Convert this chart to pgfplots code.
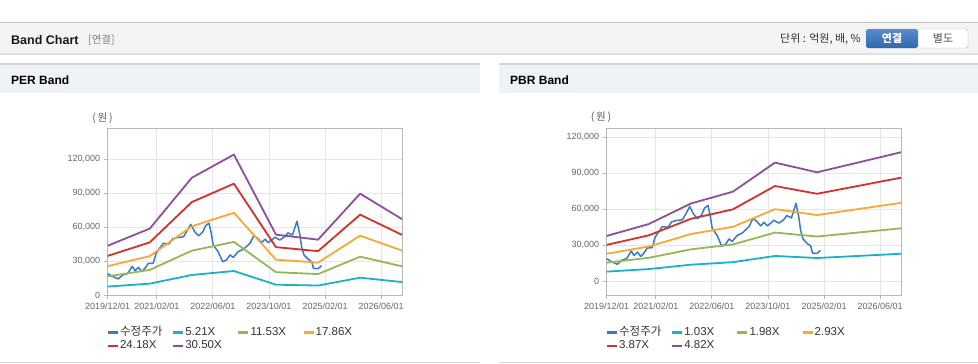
\documentclass[border=0pt]{standalone}
\usepackage{pgfplots}
\pgfplotsset{compat=1.18}
\usepackage{pgfplotstable}
\usepackage{fontspec}
\setmainfont{Liberation Sans}
\newfontfamily\kr{Noto Sans CJK KR}
\definecolor{cPrice}{HTML}{3A78C8}
\definecolor{cCyan}{HTML}{1BB2C8}
\definecolor{cGreen}{HTML}{93B956}
\definecolor{cOrange}{HTML}{F6A935}
\definecolor{cRed}{HTML}{D2322B}
\definecolor{cPurple}{HTML}{904D9C}
\definecolor{gridc}{HTML}{E6E6E6}
\definecolor{axc}{HTML}{B8B8B8}
\definecolor{tickc}{HTML}{666666}
\definecolor{legc}{HTML}{333333}
\definecolor{hdr}{HTML}{F4F4F4}
\definecolor{phdr}{HTML}{EEF2F7}

\pgfplotstableread{
m v
0 18800
1.3 16500
3.0 14200
4.3 17600
5.7 18900
7.0 25300
7.8 21500
8.8 24400
9.7 20700
10.6 23500
11.6 27900
13.0 28000
13.8 36800
15.0 42000
15.9 45600
17.5 45000
18.5 49500
19.9 50700
21.6 51300
22.5 55900
23.7 62300
24.8 55900
25.9 52200
27.1 55500
27.9 61000
28.9 63300
29.5 55000
30.1 44100
31.5 38200
32.8 29400
33.9 30900
34.9 35300
35.8 33200
37.2 38200
38.7 40300
40.6 45600
41.7 52400
42.8 50000
43.9 46200
44.9 49200
45.8 46200
46.8 48500
47.7 50900
49.1 48500
50.5 51400
51.4 54800
52.7 52900
54.0 65000
54.8 53500
55.3 42600
56.0 35300
57.2 31500
58.2 29400
58.7 23500
60.0 23200
61.0 25800
}\price

\pgfplotstableread{
m a b c d e
0 7424 16430 25451 34457 43463
12 10003 22138 34291 46426 58560
24 17662 39087 60545 81970 103395
36 21153 46812 72512 98171 123830
48 9091 20120 31166 42194 53223
60 8336 18448 28576 38688 48800
72 15265 33783 52330 70847 89365
84 11410 25251 39113 52954 66795
}\per

\pgfplotstableread{
m a b c d e
0 8086 15543 23001 30380 37837
12 10197 19602 29007 38313 47718
24 13854 26631 39409 52052 64829
36 15965 30690 45415 59985 74710
48 21136 40630 60124 79412 98906
60 19416 37323 55231 72950 90857
72 21197 40748 60299 79645 99196
84 22990 44194 65398 86378 107582
}\pbr

\pgfplotsset{
  bandaxis/.style={
    scale only axis, width=294.5pt, height=166.7pt,
    anchor=south west,
    xmin=0, xmax=84,
    xtick={0,14,30,46,62,78},
    xticklabels={2019/12/01,2021/02/01,2022/06/01,2023/10/01,2025/02/01,2026/06/01},
    ytick={0,30000,60000,90000,120000},
    grid=major, major grid style={draw=gridc, line width=0.8pt},
    axis line style={draw=axc, line width=0.9pt},
    tick style={draw=axc, line width=0.8pt},
    tick align=outside, major tick length=4pt,
    xtick pos=left, ytick pos=left,
    ticklabel style={font=\fontsize{9}{10}\selectfont, text=tickc},
    /pgf/number format/assume math mode=true,
    /pgf/number format/fixed,
    /pgf/number format/precision=0,
    /pgf/number format/1000 sep={,},
    scaled y ticks=false,
    every axis plot/.append style={line width=1.8pt, line join=round},
    legend columns=4,
    legend style={at={(0,0)}, anchor=north west, xshift=-1pt, yshift=-30.5pt,
      draw=none, fill=none, inner sep=0pt, row sep=0pt, column sep=0pt,
      font=\fontsize{11.5}{12}\selectfont, text=legc,
      nodes={inner sep=1pt, text height=8.5pt, text depth=3pt},
      cells={anchor=west}},
    legend image code/.code={\draw[##1, line width=2.2pt] (0pt,0pt) -- (10pt,0pt);},
  }
}

\begin{document}
\begin{tikzpicture}
\useasboundingbox (0,0) rectangle (978pt,-364pt);
\fill[white] (0,0) rectangle (978pt,-364pt);
% top header bar
\fill[hdr] (0,-22pt) rectangle (978pt,-53pt);
\fill[black!12] (0,-53pt) rectangle (978pt,-54.5pt);
\draw[line width=1.5pt, black!25] (0,-22.5pt) -- (978pt,-22.5pt);
\node[anchor=west, inner sep=0pt, font=\bfseries\fontsize{12.5}{14}\selectfont, text=black!90] at (11pt,-40pt) {Band Chart};
\node[anchor=west, inner sep=0pt, font=\kr\fontsize{10.5}{12}\selectfont, text=black!50] at (88pt,-40pt) {[연결]};
\node[anchor=east, inner sep=0pt, font=\kr\fontsize{11}{12}\selectfont, text=black!80] at (861pt,-39pt) {단위 : 억원, 배, \%};
\draw[fill=white, draw=black!28, rounded corners=2.5pt] (866pt,-29pt) rectangle (968pt,-48pt);
\shade[top color=cPrice!85!white, bottom color=cPrice!85!black, rounded corners=2.5pt] (866pt,-29pt) rectangle (918pt,-48pt);
\node[inner sep=0pt, font=\kr\bfseries\fontsize{11}{12}\selectfont, text=white] at (892pt,-38.5pt) {연결};
\node[inner sep=0pt, font=\kr\fontsize{11}{12}\selectfont, text=black!70] at (943pt,-38.5pt) {별도};
% panel headers
\fill[phdr] (0,-64pt) rectangle (480pt,-93pt);
\fill[phdr] (499pt,-64pt) rectangle (978pt,-93pt);
\draw[line width=1.2pt, black!17] (0,-64pt) -- (480pt,-64pt);
\draw[line width=1.2pt, black!17] (499pt,-64pt) -- (978pt,-64pt);
\draw[line width=1.2pt, black!15] (0,-362.5pt) -- (480pt,-362.5pt);
\draw[line width=1.2pt, black!15] (499pt,-362.5pt) -- (978pt,-362.5pt);
\node[anchor=west, inner sep=0pt, font=\bfseries\fontsize{12}{14}\selectfont] at (11pt,-80pt) {PER Band};
\node[anchor=west, inner sep=0pt, font=\bfseries\fontsize{12}{14}\selectfont] at (510pt,-80pt) {PBR Band};
\node[inner sep=0pt, font=\kr\fontsize{10.5}{12}\selectfont, text=black!65] at (102.5pt,-118pt) {(\,원\,)};
\node[inner sep=0pt, font=\kr\fontsize{10.5}{12}\selectfont, text=black!65] at (601pt,-117pt) {(\,원\,)};

\begin{axis}[bandaxis, at={(107.7pt,-295pt)}, ymin=0, ymax=147000]
\addplot[cPrice, line width=1.5pt] table[x=m, y=v] {\price};
\addplot[cCyan] table[x=m, y=a] {\per};
\addplot[cGreen] table[x=m, y=b] {\per};
\addplot[cOrange] table[x=m, y=c] {\per};
\addplot[cRed] table[x=m, y=d] {\per};
\addplot[cPurple] table[x=m, y=e] {\per};
\legend{\makebox[51pt][l]{\kr 수정주가}, \makebox[51pt][l]{5.21X}, \makebox[51pt][l]{11.53X}, \makebox[51pt][l]{17.86X}, 24.18X, 30.50X}
\end{axis}

\begin{axis}[bandaxis, at={(606.7pt,-295pt)}, ymin=-11400, ymax=127500]
\addplot[cPrice, line width=1.5pt] table[x=m, y=v] {\price};
\addplot[cCyan] table[x=m, y=a] {\pbr};
\addplot[cGreen] table[x=m, y=b] {\pbr};
\addplot[cOrange] table[x=m, y=c] {\pbr};
\addplot[cRed] table[x=m, y=d] {\pbr};
\addplot[cPurple] table[x=m, y=e] {\pbr};
\legend{\makebox[51pt][l]{\kr 수정주가}, \makebox[51pt][l]{1.03X}, \makebox[51pt][l]{1.98X}, \makebox[51pt][l]{2.93X}, 3.87X, 4.82X}
\end{axis}
\end{tikzpicture}
\end{document}
